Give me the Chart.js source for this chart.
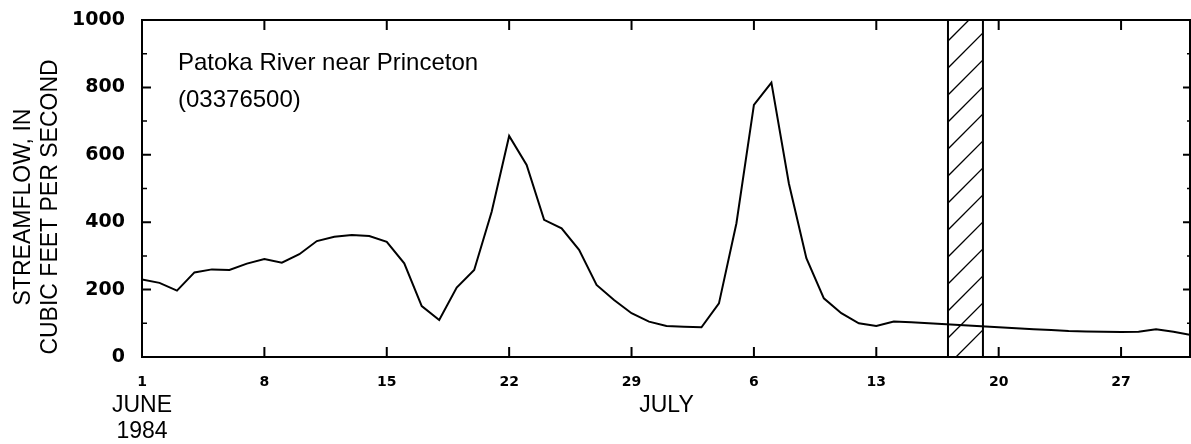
<!DOCTYPE html>
<html>
<head>
<meta charset="utf-8">
<script src="https://cdn.jsdelivr.net/npm/chart.js@4.4.1/dist/chart.umd.min.js"></script>
<style>
  html, body { margin: 0; padding: 0; background: #fff; }
  #wrap { width: 1191px; height: 444px; }
</style>
</head>
<body>
<div id="wrap"><canvas id="flowChart" width="1191" height="444"></canvas></div>
<script>
// Daily mean streamflow, cubic feet per second
const juneFlow = [230, 220, 197, 251, 260, 258, 277, 291, 280, 305,
                  344, 357, 362, 359, 342, 278, 151, 110, 206, 258,
                  431, 656, 570, 407, 382, 318, 214, 169, 130, 105];
const julyFlow = [92, 90, 88, 159, 397, 748, 814, 515, 293, 174,
                  130, 100, 92, 105, 103, 100, 97, 94, 91, 88,
                  85, 82, 80, 77, 76, 75, 74, 75, 82, 75, 65];

// x axis runs by day number from June 1 (1) to July 31 (61)
const tickDays = [1, 8, 15, 22, 29, 36, 43, 50, 57];
const tickLabels = ['1', '8', '15', '22', '29', '6', '13', '20', '27'];
const monthLabels = [
    { day: 1, lines: ['JUNE', '1984'] },
    { day: 31, lines: ['JULY'] }
];
const yMajor = [0, 200, 400, 600, 800, 1000];
const yMinor = [100, 300, 500, 700, 900];
const hatchPeriod = [47.1, 49.1]; // shaded band, mid July

const points = juneFlow.map((v, i) => ({ x: i + 1, y: v }))
    .concat(julyFlow.map((v, i) => ({ x: 31 + i, y: v })));

// frame, inward ticks, hatched band and free text
const decorations = {
    id: 'decorations',
    beforeDatasetsDraw(chart) {
        const { ctx, chartArea: a, scales: { x } } = chart;
        const x0 = x.getPixelForValue(hatchPeriod[0]);
        const x1 = x.getPixelForValue(hatchPeriod[1]);
        ctx.save();
        ctx.beginPath();
        ctx.rect(x0, a.top, x1 - x0, a.bottom - a.top);
        ctx.clip();
        ctx.strokeStyle = '#000';
        ctx.lineWidth = 1.3;
        const w = x1 - x0;
        for (let yy = a.bottom + w; yy > a.top - 30; yy -= 27) {
            ctx.beginPath();
            ctx.moveTo(x0, yy);
            ctx.lineTo(x1, yy - w);
            ctx.stroke();
        }
        ctx.restore();
        ctx.save();
        ctx.strokeStyle = '#000';
        ctx.lineWidth = 2;
        [x0, x1].forEach(px => {
            ctx.beginPath();
            ctx.moveTo(px, a.top);
            ctx.lineTo(px, a.bottom);
            ctx.stroke();
        });
        ctx.restore();
    },
    afterDraw(chart) {
        const { ctx, chartArea: a, scales: { x, y } } = chart;
        ctx.save();
        ctx.strokeStyle = '#000';
        ctx.lineWidth = 2;
        ctx.strokeRect(a.left, a.top, a.right - a.left - 1, a.bottom - a.top);

        // y ticks, left and right, pointing in
        const yTick = (v, len) => {
            const py = y.getPixelForValue(v);
            ctx.beginPath();
            ctx.moveTo(a.left, py);
            ctx.lineTo(a.left + len, py);
            ctx.moveTo(a.right, py);
            ctx.lineTo(a.right - len + 1, py);
            ctx.stroke();
        };
        yMajor.forEach(v => yTick(v, 9));
        ctx.lineWidth = 1.5;
        yMinor.forEach(v => yTick(v, 5));

        // x ticks, top and bottom, pointing in
        ctx.lineWidth = 2;
        tickDays.slice(1).forEach(d => {
            const px = x.getPixelForValue(d);
            ctx.beginPath();
            ctx.moveTo(px, a.bottom);
            ctx.lineTo(px, a.bottom - 10);
            ctx.moveTo(px, a.top);
            ctx.lineTo(px, a.top + 10);
            ctx.stroke();
        });

        ctx.fillStyle = '#000';
        ctx.font = '24px "Liberation Sans", Arial, sans-serif';
        ctx.textAlign = 'left';
        ctx.textBaseline = 'alphabetic';
        ctx.fillText('Patoka River near Princeton', 178, 70);
        ctx.fillText('(03376500)', 178, 107);

        ctx.font = '23px "Liberation Sans", Arial, sans-serif';
        ctx.textAlign = 'center';
        monthLabels.forEach(m => {
            const px = x.getPixelForValue(m.day);
            m.lines.forEach((t, i) => ctx.fillText(t, px, 412 + i * 26));
        });

        // y axis title, two lines
        const midY = 207;
        [['STREAMFLOW, IN', 30], ['CUBIC FEET PER SECOND', 57]].forEach(([t, bx]) => {
            ctx.save();
            ctx.translate(bx, midY);
            ctx.rotate(-Math.PI / 2);
            ctx.fillText(t, 0, 0);
            ctx.restore();
        });
        ctx.restore();
    }
};

new Chart(document.getElementById('flowChart').getContext('2d'), {
    type: 'line',
    data: {
        datasets: [{
            data: points,
            borderColor: '#000',
            borderWidth: 2,
            pointRadius: 0,
            tension: 0,
            fill: false
        }]
    },
    options: {
        responsive: false,
        animation: false,
        layout: { padding: { top: 20, right: 0, left: 0, bottom: 0 } },
        plugins: {
            legend: { display: false },
            tooltip: { enabled: false }
        },
        scales: {
            x: {
                type: 'linear',
                min: 1,
                max: 61,
                afterBuildTicks: (s) => { s.ticks = tickDays.map(v => ({ value: v })); },
                afterFit: (s) => { s.height = 87; s.paddingLeft = 0; s.paddingRight = 0; },
                grid: { display: false, drawTicks: false },
                border: { display: false },
                ticks: {
                    autoSkip: false,
                    maxRotation: 0,
                    padding: 17,
                    color: '#000',
                    font: { family: 'DejaVu Sans', size: 14, weight: 'bold' },
                    callback: (v, i) => tickLabels[i]
                }
            },
            y: {
                min: 0,
                max: 1000,
                afterBuildTicks: (s) => { s.ticks = yMajor.map(v => ({ value: v })); },
                afterFit: (s) => { s.width = 142; s.paddingTop = 0; s.paddingBottom = 0; },
                grid: { display: false, drawTicks: false },
                border: { display: false },
                ticks: {
                    padding: 17,
                    color: '#000',
                    font: { family: 'DejaVu Sans', size: 19, weight: 'bold' },
                    callback: (v) => String(v)
                }
            }
        }
    },
    plugins: [decorations]
});
</script>
</body>
</html>
